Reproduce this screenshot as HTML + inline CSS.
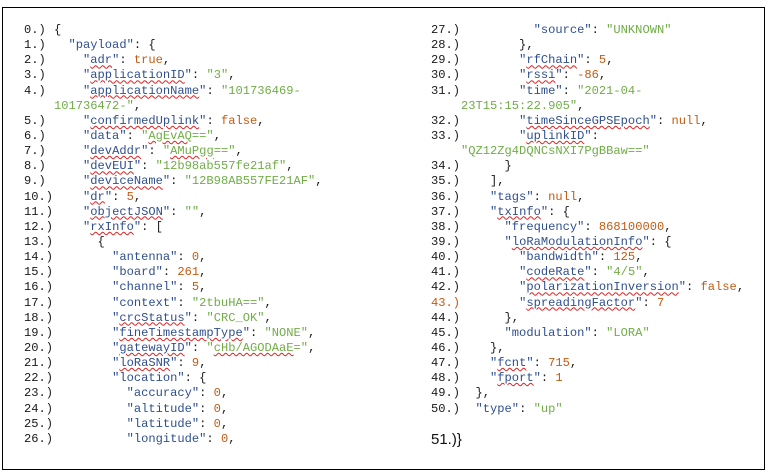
<!DOCTYPE html>
<html><head><meta charset="utf-8"><style>
html,body{margin:0;padding:0;background:#fff;width:771px;height:474px;overflow:hidden}
.box{position:absolute;left:2px;top:7px;width:761px;height:461px;border:1.5px solid #000}
pre{position:absolute;margin:0;font-family:"Liberation Mono",monospace;font-size:12.1px;line-height:15.15px;color:#1a1a1a}
.n{position:absolute;left:0}
.k{color:#2f4f8f}.s{color:#70ad47}.o{color:#c55a11}
.u{text-decoration:underline wavy #e02020;text-decoration-thickness:1px;text-underline-offset:1px}
.l{display:block;position:relative;padding-left:30px;height:15.15px;white-space:pre}
</style></head><body>
<div class="box"></div>
<pre style="left:24px;top:23px">
<span class="l"><span class="n">0.)</span>{</span><span class="l"><span class="n">1.)</span>  <span class="k">"payload"</span>: {</span><span class="l"><span class="n">2.)</span>    <span class="k">"<span class="u">adr</span>"</span>: <span class="o">true</span>,</span><span class="l"><span class="n">3.)</span>    <span class="k">"<span class="u">applicationID</span>"</span>: <span class="s">"3"</span>,</span><span class="l"><span class="n">4.)</span>    <span class="k">"<span class="u">applicationName</span>"</span>: <span class="s">"101736469-</span></span><span class="l"><span class="s">101736472-"</span>,</span><span class="l"><span class="n">5.)</span>    <span class="k">"<span class="u">confirmedUplink</span>"</span>: <span class="o">false</span>,</span><span class="l"><span class="n">6.)</span>    <span class="k">"data"</span>: <span class="s">"<span class="u">AgEvAQ</span>=="</span>,</span><span class="l"><span class="n">7.)</span>    <span class="k">"<span class="u">devAddr</span>"</span>: <span class="s">"<span class="u">AMuPgg</span>=="</span>,</span><span class="l"><span class="n">8.)</span>    <span class="k">"<span class="u">devEUI</span>"</span>: <span class="s">"12b98ab557fe21af"</span>,</span><span class="l"><span class="n">9.)</span>    <span class="k">"<span class="u">deviceName</span>"</span>: <span class="s">"12B98AB557FE21AF"</span>,</span><span class="l"><span class="n">10.)</span>    <span class="k">"<span class="u">dr</span>"</span>: <span class="o">5</span>,</span><span class="l"><span class="n">11.)</span>    <span class="k">"<span class="u">objectJSON</span>"</span>: <span class="s">""</span>,</span><span class="l"><span class="n">12.)</span>    <span class="k">"<span class="u">rxInfo</span>"</span>: [</span><span class="l"><span class="n">13.)</span>      {</span><span class="l"><span class="n">14.)</span>        <span class="k">"antenna"</span>: <span class="o">0</span>,</span><span class="l"><span class="n">15.)</span>        <span class="k">"board"</span>: <span class="o">261</span>,</span><span class="l"><span class="n">16.)</span>        <span class="k">"channel"</span>: <span class="o">5</span>,</span><span class="l"><span class="n">17.)</span>        <span class="k">"context"</span>: <span class="s">"2tbuHA=="</span>,</span><span class="l"><span class="n">18.)</span>        <span class="k">"<span class="u">crcStatus</span>"</span>: <span class="s">"CRC_OK"</span>,</span><span class="l"><span class="n">19.)</span>        <span class="k">"<span class="u">fineTimestampType</span>"</span>: <span class="s">"NONE"</span>,</span><span class="l"><span class="n">20.)</span>        <span class="k">"<span class="u">gatewayID</span>"</span>: <span class="s">"<span class="u">cHb/AGODAaE</span>="</span>,</span><span class="l"><span class="n">21.)</span>        <span class="k">"<span class="u">loRaSNR</span>"</span>: <span class="o">9</span>,</span><span class="l"><span class="n">22.)</span>        <span class="k">"location"</span>: {</span><span class="l"><span class="n">23.)</span>          <span class="k">"accuracy"</span>: <span class="o">0</span>,</span><span class="l"><span class="n">24.)</span>          <span class="k">"altitude"</span>: <span class="o">0</span>,</span><span class="l"><span class="n">25.)</span>          <span class="k">"latitude"</span>: <span class="o">0</span>,</span><span class="l"><span class="n">26.)</span>          <span class="k">"longitude"</span>: <span class="o">0</span>,</span></pre>
<pre style="left:431px;top:23px">
<span class="l"><span class="n">27.)</span>          <span class="k">"source"</span>: <span class="s">"UNKNOWN"</span></span><span class="l"><span class="n">28.)</span>        },</span><span class="l"><span class="n">29.)</span>        <span class="k">"<span class="u">rfChain</span>"</span>: <span class="o">5</span>,</span><span class="l"><span class="n">30.)</span>        <span class="k">"<span class="u">rssi</span>"</span>: <span class="o">-86</span>,</span><span class="l"><span class="n">31.)</span>        <span class="k">"time"</span>: <span class="s">"2021-04-</span></span><span class="l"><span class="s">23T15:15:22.905"</span>,</span><span class="l"><span class="n">32.)</span>        <span class="k">"<span class="u">timeSinceGPSEpoch</span>"</span>: <span class="o">null</span>,</span><span class="l"><span class="n">33.)</span>        <span class="k">"<span class="u">uplinkID</span>"</span>:</span><span class="l"><span class="s">"QZ12Zg4DQNCsNXI7PgBBaw=="</span></span><span class="l"><span class="n">34.)</span>      }</span><span class="l"><span class="n">35.)</span>    ],</span><span class="l"><span class="n">36.)</span>    <span class="k">"tags"</span>: <span class="o">null</span>,</span><span class="l"><span class="n">37.)</span>    <span class="k">"<span class="u">txInfo</span>"</span>: {</span><span class="l"><span class="n">38.)</span>      <span class="k">"frequency"</span>: <span class="o">868100000</span>,</span><span class="l"><span class="n">39.)</span>      <span class="k">"<span class="u">loRaModulationInfo</span>"</span>: {</span><span class="l"><span class="n">40.)</span>        <span class="k">"bandwidth"</span>: <span class="o">125</span>,</span><span class="l"><span class="n">41.)</span>        <span class="k">"<span class="u">codeRate</span>"</span>: <span class="s">"4/5"</span>,</span><span class="l"><span class="n">42.)</span>        <span class="k">"<span class="u">polarizationInversion</span>"</span>: <span class="o">false</span>,</span><span class="l"><span class="n o">43.)</span>        <span class="k">"<span class="u">spreadingFactor</span>"</span>: <span class="o">7</span></span><span class="l"><span class="n">44.)</span>      },</span><span class="l"><span class="n">45.)</span>      <span class="k">"modulation"</span>: <span class="s">"LORA"</span></span><span class="l"><span class="n">46.)</span>    },</span><span class="l"><span class="n">47.)</span>    <span class="k">"<span class="u">fcnt</span>"</span>: <span class="o">715</span>,</span><span class="l"><span class="n">48.)</span>    <span class="k">"<span class="u">fport</span>"</span>: <span class="o">1</span></span><span class="l"><span class="n">49.)</span>  },</span><span class="l"><span class="n">50.)</span>  <span class="k">"type"</span>: <span class="s">"up"</span></span></pre>
<div style="position:absolute;left:431px;top:431px;font-family:'Liberation Sans',sans-serif;font-size:15px;color:#111">51.)}</div>
</body></html>
